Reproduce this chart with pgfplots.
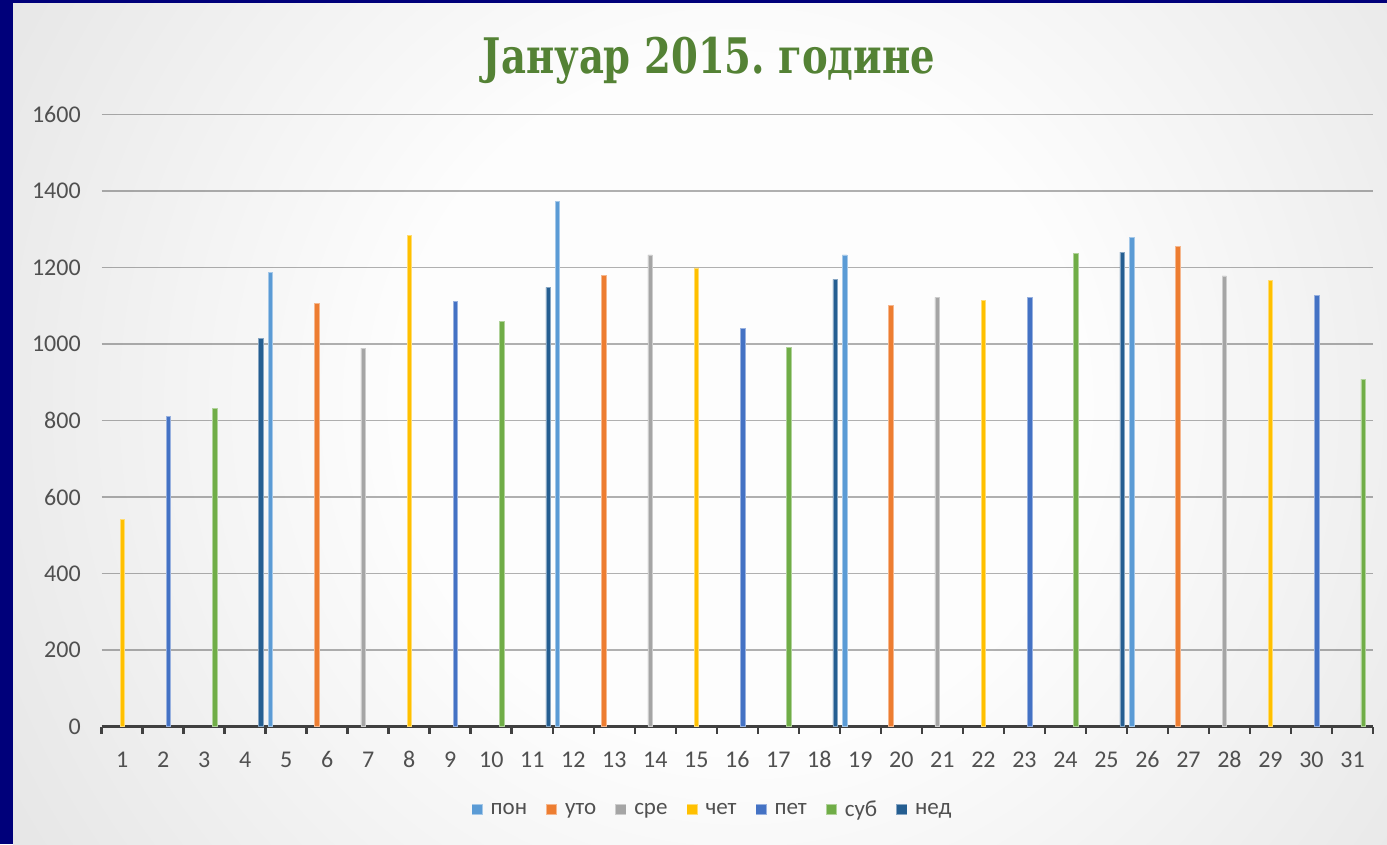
\documentclass[border=0pt]{standalone}
\usepackage{pgfplots}
\pgfplotsset{compat=1.18}
\usepackage{fontspec}
\setmainfont{Carlito}
\newfontfamily\titlefont{DejaVu Serif}
\frenchspacing
\definecolor{navy}{RGB}{0,0,122}
\definecolor{bgc0}{RGB}{253,253,253}
\definecolor{bgc1}{RGB}{207,207,207}
\definecolor{bgc2}{RGB}{194,194,194}
\definecolor{titlegreen}{RGB}{84,130,53}
\definecolor{ticktext}{RGB}{80,80,80}
\definecolor{axisgray}{RGB}{64,64,64}
\definecolor{cpon}{RGB}{91,155,213}
\definecolor{cuto}{RGB}{237,125,49}
\definecolor{csre}{RGB}{165,165,165}
\definecolor{ccet}{RGB}{255,192,0}
\definecolor{cpet}{RGB}{68,114,196}
\definecolor{csub}{RGB}{112,173,71}
\definecolor{cned}{RGB}{37,94,145}
\pgfdeclareradialshading{bgshade}{\pgfpoint{0bp}{0bp}}{color(0bp)=(bgc0); color(9bp)=(bgc0); color(36bp)=(bgc1); color(50bp)=(bgc2)}
\pgfplotsset{
  daybar/.style={ybar, bar width=4.4pt, fill=#1, draw=#1!55!white, line width=0.6pt, forget plot},
  legimg/.style={legend image code/.code={%
    \fill[draw=none, fill=#1!55!white] (0pt,-5.6pt) rectangle (11.2pt,5.6pt);
    \fill[draw=none, fill=#1] (0.8pt,-4.8pt) rectangle (10.4pt,4.8pt);
    \path[draw=none] (0pt,0pt) -- (17pt,0pt);}}}
\begin{document}
\begin{tikzpicture}
\useasboundingbox (0pt,0pt) rectangle (1387pt,844pt);
\fill[navy] (0pt,0pt) rectangle (1387pt,844pt);
\fill[bgc2] (13pt,0pt) rectangle (1387pt,840pt);
\begin{scope}
\clip (13pt,0pt) rectangle (1387pt,840pt);
\shade[shading=bgshade] (740pt,440pt) circle (950pt);
\end{scope}
\node[anchor=base, text=titlegreen, inner sep=0pt] at (708.9pt,770.7pt)
  {\resizebox{452pt}{\height}{\titlefont\bfseries\fontsize{49}{51}\selectfont Јануар 2015. године}};
\begin{axis}[
  at={(101.7pt,117.5pt)}, anchor=south west,
  scale only axis, width=1271.3pt, height=612pt,
  xmin=0.5, xmax=31.5, ymin=0, ymax=1600,
  xtick={1,...,31}, ytick={0,200,...,1600},
  minor xtick={0.5,1.5,...,31.5},
  major tick length=0pt, minor tick length=7pt, tick align=outside,
  minor tick style={draw=axisgray, line width=2.6pt},
  axis x line*=bottom, axis y line*=left,
  y axis line style={draw=none},
  x axis line style={draw=axisgray, line width=3pt},
  ymajorgrids,
  major grid style={draw=black, draw opacity=0.3, line width=1.5pt},
  /pgf/number format/assume math mode=true,
  /pgf/number format/1000 sep={},
  scaled y ticks=false,
  ticklabel style={font=\fontsize{24}{26}\selectfont, text=ticktext},
  xticklabel style={yshift=-22pt, text height=15pt, text depth=0pt},
  yticklabel style={xshift=-17.5pt},
  clip=false,
  legend columns=7,
  legend style={at={(0.4805,-0.1354)}, anchor=center, draw=none, fill=none,
    font=\fontsize{23}{25}\selectfont, text=ticktext,
    /tikz/every even column/.append style={column sep=17pt}},
  legend cell align=left,
]
\addplot[daybar=cpon, bar shift=-15.75pt] coordinates {(5,1187) (12,1372) (19,1233) (26,1278)};
\addplot[daybar=cuto, bar shift=-10.5pt] coordinates {(6,1106) (13,1179) (20,1101) (27,1255)};
\addplot[daybar=csre, bar shift=-5.25pt] coordinates {(7,989) (14,1233) (21,1122) (28,1178)};
\addplot[daybar=ccet, bar shift=0pt] coordinates {(1,542) (8,1283) (15,1199) (22,1114) (29,1167)};
\addplot[daybar=cpet, bar shift=5.25pt] coordinates {(2,811) (9,1111) (16,1041) (23,1122) (30,1127)};
\addplot[daybar=csub, bar shift=10.5pt] coordinates {(3,832) (10,1059) (17,992) (24,1237) (31,908)};
\addplot[daybar=cned, bar shift=15.75pt] coordinates {(4,1015) (11,1148) (18,1169) (25,1240)};
\addlegendimage{legimg=cpon}\addlegendentry{пон}
\addlegendimage{legimg=cuto}\addlegendentry{уто}
\addlegendimage{legimg=csre}\addlegendentry{сре}
\addlegendimage{legimg=ccet}\addlegendentry{чет}
\addlegendimage{legimg=cpet}\addlegendentry{пет}
\addlegendimage{legimg=csub}\addlegendentry{суб}
\addlegendimage{legimg=cned}\addlegendentry{нед}
\end{axis}
\end{tikzpicture}
\end{document}
